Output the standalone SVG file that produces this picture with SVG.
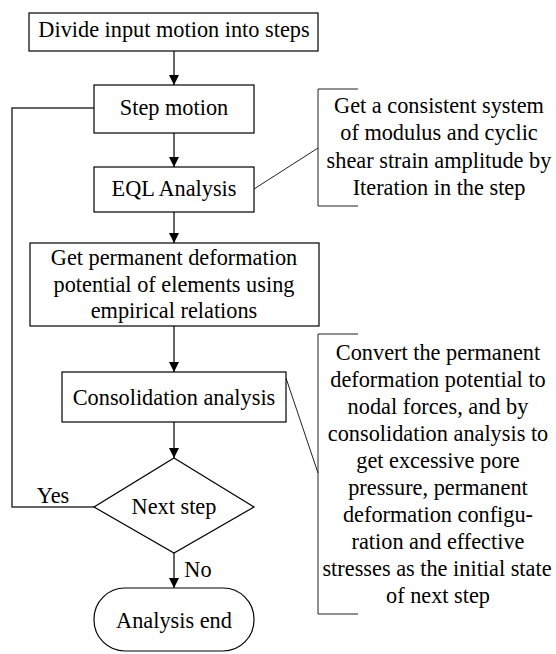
<svg xmlns="http://www.w3.org/2000/svg" width="556" height="654" viewBox="0 0 556 654">
<defs>
<style>
.box{fill:#fff;stroke:#000;stroke-width:1.2}
.ln{fill:none;stroke:#333;stroke-width:1.5}
.thin{fill:none;stroke:#222;stroke-width:1}
text{font-family:"Liberation Serif","Times New Roman",serif;font-size:22.3px;fill:#000;text-anchor:middle}
</style>
<marker id="ah" viewBox="0 0 10 10" refX="10" refY="5" markerWidth="10" markerHeight="10" markerUnits="userSpaceOnUse" orient="auto">
<path d="M0,0 L10,5 L0,10 z" fill="#000"/>
</marker>
</defs>
<rect width="556" height="654" fill="#fff"/>
<g id="connectors">
<line class="ln" x1="174" y1="51" x2="174" y2="85" marker-end="url(#ah)"/>
<line class="ln" x1="174" y1="133" x2="174" y2="167" marker-end="url(#ah)"/>
<line class="ln" x1="174" y1="212" x2="174" y2="243" marker-end="url(#ah)"/>
<line class="ln" x1="174" y1="326" x2="174" y2="372" marker-end="url(#ah)"/>
<line class="ln" x1="174" y1="422" x2="174" y2="458" marker-end="url(#ah)"/>
<line class="ln" x1="174" y1="553" x2="174" y2="588" marker-end="url(#ah)"/>
<polyline class="ln" points="94,507 12,507 12,108 94,108"/>
<line class="thin" x1="254" y1="189" x2="318" y2="148"/>
<line class="thin" x1="286" y1="378" x2="318" y2="473"/>
<text x="53" y="503">Yes</text>
<text x="198" y="577">No</text>
</g>
<g id="n1"><rect class="box" x="29" y="13" width="289" height="38"/><text x="174" y="37">Divide input motion into steps</text></g>
<g id="n2"><rect class="box" x="94" y="85" width="160" height="48"/><text x="174" y="115">Step motion</text></g>
<g id="n3"><rect class="box" x="94" y="167" width="160" height="45"/><text x="174" y="196">EQL Analysis</text></g>
<g id="n4"><rect class="box" x="30" y="243" width="289" height="83"/>
<text x="174" y="265">Get permanent deformation</text>
<text x="174" y="292">potential of elements using</text>
<text x="174" y="318">empirical relations</text></g>
<g id="n5"><rect class="box" x="62" y="372" width="224" height="50"/><text x="174" y="405">Consolidation analysis</text></g>
<g id="n6"><polygon class="box" points="174,458 254,507 174,553 94,507"/><text x="174" y="514">Next step</text></g>
<g id="n7"><rect class="box" x="94" y="588" width="160" height="63" rx="31" ry="31"/><text x="174" y="628">Analysis end</text></g>
<g id="a1"><polyline class="thin" points="358,89 318,89 318,206 358,206"/>
<text x="439" y="113">Get a consistent system</text>
<text x="439" y="140">of modulus and cyclic</text>
<text x="439" y="168">shear strain amplitude by</text>
<text x="439" y="195">Iteration in the step</text></g>
<g id="a2"><polyline class="thin" points="358,334 318,334 318,614 358,614"/>
<text x="438" y="360">Convert the permanent</text>
<text x="438" y="387">deformation potential to</text>
<text x="438" y="414">nodal forces, and by</text>
<text x="438" y="441">consolidation analysis to</text>
<text x="438" y="468">get excessive pore</text>
<text x="438" y="495">pressure, permanent</text>
<text x="438" y="522">deformation configu-</text>
<text x="438" y="549">ration and effective</text>
<text x="437" y="576">stresses as the initial state</text>
<text x="438" y="603">of next step</text></g>
</svg>
